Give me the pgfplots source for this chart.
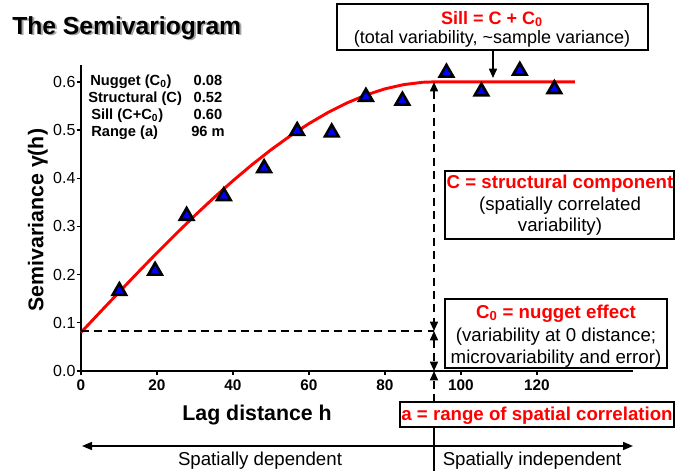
\documentclass[border=0pt]{standalone}
\usepackage{fontspec}
\setmainfont{Liberation Sans}
\usepackage{pgfplots}
\pgfplotsset{compat=1.18}
\usetikzlibrary{arrows.meta}

% fitted spherical model (nugget 0.08, sill 0.60)
\pgfplotstableread{
h gam
0 0.0800
5 0.1219
10 0.1635
15 0.2047
20 0.2452
25 0.2846
30 0.3229
35 0.3597
40 0.3948
45 0.4280
50 0.4590
55 0.4875
60 0.5134
65 0.5364
70 0.5562
75 0.5727
80 0.5855
85 0.5944
90 0.5992
93 0.6000
130 0.6000
}\modelcurve

\pgfplotstableread{
h gam
10.1 0.166
19.5 0.208
27.8 0.322
37.6 0.363
48.2 0.421
56.9 0.498
66.0 0.495
75.0 0.569
84.6 0.561
96.2 0.619
105.4 0.580
115.5 0.623
124.6 0.585
}\experimental

\begin{document}
\begin{tikzpicture}
\begin{axis}[
    at={(60.75pt,-278.25pt)}, anchor=south west,
    scale only axis, width=414pt, height=229.5pt,
    xmin=0, xmax=145.3, ymin=0, ymax=0.635,
    axis x line*=bottom, axis y line*=left,
    axis line style={line width=1.4pt},
    tick align=outside, major tick length=3pt,
    tick style={black, line width=1pt},
    xtick={0,20,...,120}, ytick={0,0.1,...,0.6},
    /pgf/number format/assume math mode=true,
    yticklabel style={/pgf/number format/.cd, fixed, fixed zerofill, precision=1, /tikz/.cd,
        font=\fontsize{12}{14}\selectfont, inner xsep=1pt},
    xticklabel style={font=\fontsize{11.5}{13}\selectfont\bfseries},
    xlabel={Lag distance h},
    ylabel={Semivariance γ(h)},
    xlabel style={at={(axis description cs:0.319,-0.143)}, anchor=center, font=\fontsize{16}{18}\selectfont\bfseries},
    ylabel style={at={(axis description cs:-0.078,0.493)}, anchor=center, rotate=0, font=\fontsize{16}{18}\selectfont\bfseries},
    clip=false,
  ]
  \addplot[red, line width=2.2pt, line join=round] table[x=h, y=gam] {\modelcurve};
  \addplot[only marks, mark=triangle*, mark size=5.8pt,
    mark options={fill=blue, draw=black, line width=2pt}] table[x=h, y=gam] {\experimental};
\end{axis}

\begin{scope}[x=0.75pt, y=-0.75pt]
  \path[use as bounding box] (0,0) rectangle (675,471);
  % title with shadow
  \node[anchor=base west, inner sep=0, text=black!35, font=\fontsize{18.5}{20}\selectfont\bfseries] at (14,36) {The Semivariogram};
  \node[anchor=base west, inner sep=0, font=\fontsize{18.5}{20}\selectfont\bfseries] at (12,34) {The Semivariogram};
  % parameter table
  \begin{scope}[every node/.style={inner sep=0, font=\fontsize{11}{13}\selectfont\bfseries}]
    \node[anchor=base west] at (90,85) {Nugget (C\textsubscript{0})};
    \node[anchor=base west] at (88,102) {Structural (C)};
    \node[anchor=base west] at (91,119) {Sill (C+C\textsubscript{0})};
    \node[anchor=base west] at (91,136) {Range (a)};
    \node[anchor=base] at (208,85) {0.08};
    \node[anchor=base] at (208,102) {0.52};
    \node[anchor=base] at (208,119) {0.60};
    \node[anchor=base] at (208,136) {96 m};
  \end{scope}
  % dashed guide lines
  \draw[line width=1.2pt, dash pattern=on 6pt off 4pt] (81,331) -- (434,331);
  \draw[line width=1.2pt, dash pattern=on 6pt off 4pt, {Triangle[length=7pt,width=6pt]}-{Triangle[length=7pt,width=6pt]}] (434,82) -- (434,331);
  \draw[line width=1.2pt, dash pattern=on 6pt off 4pt, {Triangle[length=7pt,width=6pt]}-{Triangle[length=7pt,width=6pt]}] (434,331) -- (434,371);
  \draw[line width=1.2pt, dash pattern=on 6pt off 4pt, -{Triangle[length=7pt,width=6pt]}] (434,402) -- (434,371);
  \draw[line width=1.2pt] (434,427) -- (434,471);
  % sill box
  \draw[line width=1pt, fill=white] (337,4) rectangle (648,50);
  \node[anchor=base, inner sep=0, text=red, font=\fontsize{13.5}{15}\selectfont\bfseries] at (492,24) {Sill = C + C\textsubscript{0}};
  \node[anchor=base, inner sep=0, font=\fontsize{13.5}{15}\selectfont] at (492,43) {(total variability, \textasciitilde sample variance)};
  \draw[line width=1.2pt, -{Triangle[length=7pt,width=6pt]}] (493,50) -- (493,78);
  % structural box
  \draw[line width=1pt, fill=white] (445,171) rectangle (674,239);
  \node[anchor=base, inner sep=0, text=red, font=\fontsize{14}{16}\selectfont\bfseries] at (560,188) {C = structural component};
  \node[anchor=base, inner sep=0, font=\fontsize{14}{16}\selectfont] at (560,210) {(spatially correlated};
  \node[anchor=base, inner sep=0, font=\fontsize{14}{16}\selectfont] at (560,231) {variability)};
  % nugget box
  \draw[line width=1pt, fill=white] (445,299) rectangle (667,368);
  \node[anchor=base, inner sep=0, text=red, font=\fontsize{14}{16}\selectfont\bfseries] at (556,318) {C\textsubscript{0} = nugget effect};
  \node[anchor=base, inner sep=0, font=\fontsize{14}{16}\selectfont] at (556,341) {(variability at 0 distance;};
  \node[anchor=base, inner sep=0, font=\fontsize{14}{16}\selectfont] at (556,363) {microvariability and error)};
  % range box
  \draw[line width=1pt, fill=white] (400,402) rectangle (674,427);
  \node[anchor=base, inner sep=0, text=red, font=\fontsize{14}{16}\selectfont\bfseries] at (537,420) {a = range of spatial correlation};
  % bottom arrows
  \draw[line width=1.2pt, -{Triangle[length=7.5pt,width=6pt]}] (434,446) -- (82,446);
  \draw[line width=1.2pt, -{Triangle[length=7.5pt,width=6pt]}] (434,446) -- (633,446);
  \node[anchor=base, inner sep=0, font=\fontsize{14}{16}\selectfont] at (260,465) {Spatially dependent};
  \node[anchor=base, inner sep=0, font=\fontsize{14}{16}\selectfont] at (532,465) {Spatially independent};
\end{scope}
\end{tikzpicture}
\end{document}
